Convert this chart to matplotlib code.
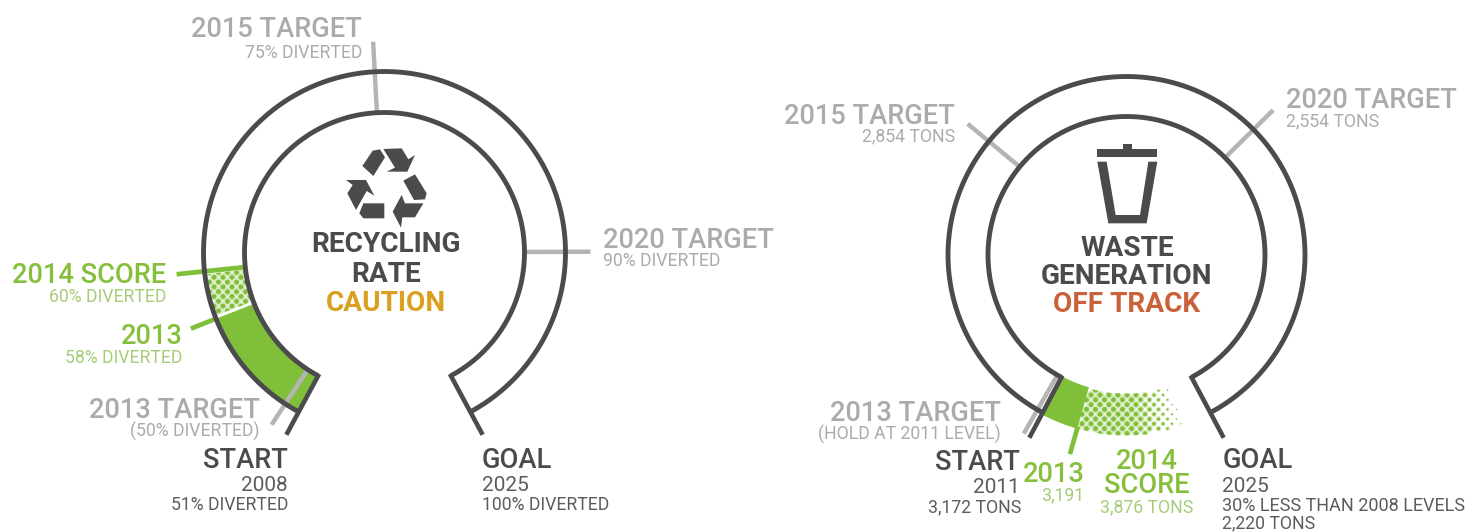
import numpy as np
import matplotlib
matplotlib.use('Agg')
import matplotlib.pyplot as plt
from matplotlib.patches import Polygon

DARK = '#4b4b4d'
GRAY = '#b4b4b4'
GRAY_TXT = '#ababab'
GREEN = '#7fbf3a'
GREEN_PALE = '#d5e9b8'
GREEN_TXT = '#86bf3c'
GREEN_SUB = '#a6cc78'
SUB_DARK = '#5c5c5e'

BIG = 19.6
MID = 15
SMALL = 12.7

# recycling rate, percent diverted
rec_start = 51
rec_goal = 100
rec_targets = [75, 90]
rec_2013 = 58
rec_2014 = 60
# where the marks sit on the ring
rec_2013_drawn = 57.5
rec_target13_drawn = 51.8

# waste generation, tons
waste_start = 3172
waste_goal = 2220
waste_targets = [2854, 2554]
waste_2013 = 3191
waste_2014 = 3876
# 2013 and 2014 are drawn backwards from the start, not to scale
waste_2013_drawn = 3210
waste_2014_drawn = 3316
waste_target13_drawn = 3166

fig = plt.figure(figsize=(14.8, 5.32), dpi=100)
ax = fig.add_axes([0, 0, 1, 1])
ax.set_xlim(0, 1480)
ax.set_ylim(532, 0)
ax.axis('off')
plt.rcParams['font.family'] = ['Roboto', 'DejaVu Sans']


def polar(c, ang, r):
    a = np.radians(ang)
    return c[0] + r * np.cos(a), c[1] - r * np.sin(a)


def band(c, a0, a1, r0, r1):
    t = np.linspace(a0, a1, 80)
    x0, y0 = polar(c, t, r0)
    x1, y1 = polar(c, t[::-1], r1)
    return np.column_stack([np.r_[x0, x1], np.r_[y0, y1]])


def spoke(c, ang, r0, r1, color, lw):
    x, y = polar(c, ang, np.array([r0, r1]))
    ax.plot(x, y, color=color, lw=lw, solid_capstyle='butt')


def ring(c, r_in, r_out, a0, a1):
    t = np.linspace(a0, a1, 300)
    for r in (r_in, r_out):
        x, y = polar(c, t, r)
        ax.plot(x, y, color=DARK, lw=3.5, solid_capstyle='butt')
    spoke(c, a0, r_in - 2, 207, DARK, 3.3)
    spoke(c, a1, r_in - 2, 207, DARK, 3.3)


def dots(c, a0, a1, r_in, r_out, fade_from=None):
    xs, ys = np.meshgrid(np.arange(c[0] - 220, c[0] + 220, 9.0),
                         np.arange(c[1] - 220, c[1] + 220, 4.8))
    xs[1::2] += 4.5
    xs, ys = xs.ravel(), ys.ravel()
    ang = np.degrees(np.arctan2(c[1] - ys, xs - c[0])) % 360
    rad = np.hypot(xs - c[0], ys - c[1])
    keep = (ang > min(a0, a1)) & (ang < max(a0, a1)) & (rad > r_in) & (rad < r_out)
    s = np.full(keep.sum(), 1.0)
    if fade_from is not None:
        s = np.clip((a1 - ang[keep]) / (a1 - fade_from), 0.05, 1.0)
    clip = Polygon(band(c, a0 - 1, a1 + 1, r_in, r_out), fc='none', ec='none')
    ax.add_patch(clip)
    halo = ax.scatter(xs[keep], ys[keep], s=34 * s, color=GREEN_PALE, linewidths=0)
    core = ax.scatter(xs[keep], ys[keep], s=12 * s, color=GREEN, linewidths=0)
    halo.set_clip_path(clip)
    core.set_clip_path(clip)


def txt(x, y, s, size, color, ha='left', weight='normal'):
    ax.text(x, y, s, fontsize=size, color=color, ha=ha, va='baseline', weight=weight)


# left gauge
c1 = (384.5, 252.5)
r1_in, r1_out = 140, 181
A0, A1 = 241.7, -61.7


def rec_ang(v):
    return A0 + (v - rec_start) / (rec_goal - rec_start) * (A1 - A0)


dots(c1, rec_ang(rec_2013_drawn), rec_ang(rec_2014), r1_in, r1_out)
ax.add_patch(Polygon(band(c1, rec_ang(rec_start), rec_ang(rec_2013_drawn), r1_in, r1_out),
                     fc=GREEN, ec='none'))
spoke(c1, rec_ang(rec_2014), r1_in, 209, GREEN, 3.4)
spoke(c1, rec_ang(rec_2013_drawn), r1_out, 208, GREEN, 3.4)
spoke(c1, rec_ang(rec_target13_drawn), r1_in, 206, GRAY, 3.2)
spoke(c1, rec_ang(rec_targets[0]), r1_in, 211, GRAY, 3.2)
spoke(c1, rec_ang(rec_targets[1]), r1_in, 206, GRAY, 3.2)
ring(c1, r1_in, r1_out, A0, A1)

# recycling symbol
recycle = [
    [(97, 108), (128, 62), (150, 58), (165, 82), (130, 138)],
    [(160, 57), (215, 55), (235, 88), (255, 75), (232, 125), (170, 125), (195, 113)],
    [(220, 152), (255, 133), (290, 190), (285, 208), (252, 210)],
    [(188, 245), (215, 195), (225, 220), (280, 220), (255, 262), (217, 262), (213, 293)],
    [(100, 220), (163, 220), (163, 265), (100, 265), (88, 250)],
    [(48, 150), (108, 150), (133, 197), (110, 183), (78, 240), (52, 190), (68, 165)],
]
for pts in recycle:
    p = np.array(pts) / 3.0 + (330, 130)
    ax.add_patch(Polygon(p, fc=DARK, ec='none'))

txt(362, 37, '2015 TARGET', BIG, GRAY_TXT, 'right', 'medium')
txt(362, 58, '75% DIVERTED', SMALL, GRAY_TXT, 'right')
txt(603, 248, '2020 TARGET', BIG, GRAY_TXT, 'left', 'medium')
txt(603, 266, '90% DIVERTED', SMALL, GRAY_TXT)
txt(166, 283, '2014 SCORE', BIG, GREEN_TXT, 'right', 'medium')
txt(166, 302, '60% DIVERTED', SMALL, GREEN_SUB, 'right')
txt(183, 344, '2013', BIG, GREEN_TXT, 'right', 'medium')
txt(182, 363, '58% DIVERTED', SMALL, GREEN_SUB, 'right')
txt(260, 418, '2013 TARGET', BIG, GRAY_TXT, 'right', 'medium')
txt(260, 437, '(50% DIVERTED)', SMALL, GRAY_TXT, 'right')
txt(288, 468, 'START', BIG, DARK, 'right', 'medium')
txt(288, 491, '2008', MID, SUB_DARK, 'right')
txt(288, 510, '51% DIVERTED', SMALL, SUB_DARK, 'right')
txt(482, 468, 'GOAL', BIG, DARK, 'left', 'medium')
txt(482, 491, '2025', MID, SUB_DARK)
txt(482, 510, '100% DIVERTED', SMALL, SUB_DARK)
txt(386, 252, 'RECYCLING', 20.2, DARK, 'center', 'bold')
txt(386, 282, 'RATE', 20.2, DARK, 'center', 'bold')
txt(386, 311, 'CAUTION', 20.2, '#d9a11f', 'center', 'bold')

# right gauge
c2 = (1126.5, 255)
r2_in, r2_out = 138.5, 178.5
B0, B1 = 242, -62


def waste_ang(v):
    return B0 + (v - waste_start) / (waste_goal - waste_start) * (B1 - B0)


a13 = waste_ang(waste_2013_drawn)
a14 = waste_ang(waste_2014_drawn)
dots(c2, a13, a14, r2_in, r2_out + 2, fade_from=a13 + 18)
ax.add_patch(Polygon(band(c2, B0, a13, r2_in - 1, r2_out + 2), fc=GREEN, ec='none'))
spoke(c2, a13, r2_out, 207, GREEN, 3.4)
spoke(c2, waste_ang(waste_target13_drawn), r2_in, 206, GRAY, 3.2)
spoke(c2, waste_ang(waste_targets[0]), r2_in + 2, 206, GRAY, 3.2)
spoke(c2, waste_ang(waste_targets[1]), r2_in + 2, 206, GRAY, 3.2)
ring(c2, r2_in, r2_out, B0, B1)

# trash can
lid = [(52, 57), (130, 57), (130, 43), (157, 43), (157, 57), (232, 57), (232, 82), (52, 82)]
body = [(52, 95), (80, 95), (107, 255), (180, 255), (205, 95), (232, 95), (200, 280), (85, 280)]
for pts in (lid, body):
    p = np.array(pts) / 3.0 + (1080, 130)
    ax.add_patch(Polygon(p, fc=DARK, ec='none'))

txt(955, 124, '2015 TARGET', BIG, GRAY_TXT, 'right', 'medium')
txt(955, 141, f'{waste_targets[0]:,} TONS', SMALL, GRAY_TXT, 'right')
txt(1286, 108, '2020 TARGET', BIG, GRAY_TXT, 'left', 'medium')
txt(1286, 126, f'{waste_targets[1]:,} TONS', SMALL, GRAY_TXT)
txt(1001, 421, '2013 TARGET', BIG, GRAY_TXT, 'right', 'medium')
txt(1001, 440, '(HOLD AT 2011 LEVEL)', SMALL, GRAY_TXT, 'right')
txt(1020, 470, 'START', BIG, DARK, 'right', 'medium')
txt(1020, 493, '2011', MID, SUB_DARK, 'right')
txt(1021, 512, f'{waste_start:,} TONS', SMALL, SUB_DARK, 'right')
txt(1085, 482, '2013', BIG, GREEN_TXT, 'right', 'medium')
txt(1084, 500, f'{waste_2013:,}', SMALL, GREEN_SUB, 'right')
txt(1147, 469, '2014', BIG, GREEN_TXT, 'center', 'medium')
txt(1147, 493, 'SCORE', BIG, GREEN_TXT, 'center', 'medium')
txt(1147, 512, f'{waste_2014:,} TONS', SMALL, GREEN_SUB, 'center')
txt(1223, 468, 'GOAL', BIG, DARK, 'left', 'medium')
txt(1222, 492, '2025', MID, SUB_DARK)
txt(1222, 511, '30% LESS THAN 2008 LEVELS', 13, SUB_DARK)
txt(1222, 528, f'{waste_goal:,} TONS', SMALL, SUB_DARK)
txt(1127, 256, 'WASTE', 20.2, DARK, 'center', 'bold')
txt(1127, 284, 'GENERATION', 20.2, DARK, 'center', 'bold')
txt(1127, 312, 'OFF TRACK', 20.2, '#c9623a', 'center', 'bold')

fig.savefig('out.png', dpi=100, facecolor='white')
